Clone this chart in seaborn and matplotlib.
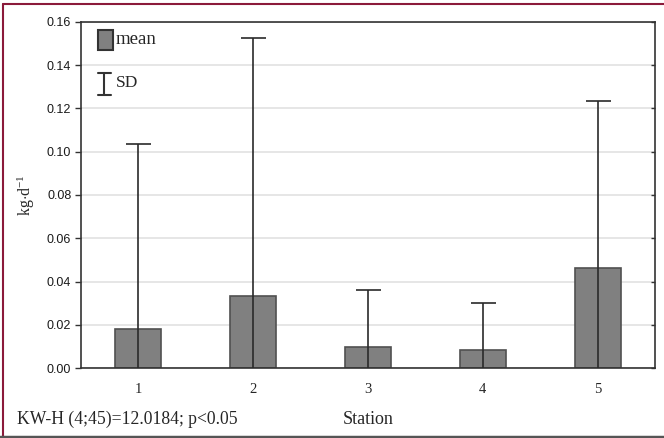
import matplotlib
matplotlib.use("Agg")
import matplotlib.pyplot as plt
import seaborn as sns
import pandas as pd
from matplotlib.lines import Line2D
from matplotlib.patches import Rectangle

stations = ["1", "2", "3", "4", "5"]
means = [0.018, 0.0333, 0.0097, 0.0083, 0.0462]
sds = [0.0856, 0.1193, 0.0264, 0.0217, 0.0773]
yticks = [0.00, 0.02, 0.04, 0.06, 0.08, 0.10, 0.12, 0.14, 0.16]

sns.set_theme(style="white")
plt.rcParams["font.family"] = ["Liberation Sans", "DejaVu Sans"]
plt.rcParams["mathtext.fontset"] = "custom"
plt.rcParams["mathtext.rm"] = "Liberation Serif"
plt.rcParams["mathtext.it"] = "Liberation Serif:italic"

df = pd.DataFrame({"Station": stations, "mean": means, "sd": sds})

fig = plt.figure(figsize=(6.64, 4.38), dpi=100)
ax = fig.add_axes([0.122, 0.1598, 0.8644, 0.79])

sns.barplot(data=df, x="Station", y="mean", color="#808080", width=0.4,
            errorbar=None, saturation=1, edgecolor="#505050", linewidth=1.2,
            ax=ax, zorder=2)
ax.errorbar(range(len(stations)), means, yerr=sds, fmt="none",
            ecolor="#2a2a2a", elinewidth=1.2, capsize=9, capthick=1.2, zorder=3)

ax.set_xlim(-0.5, 4.5)
ax.set_ylim(0, 0.16)
ax.set_yticks(yticks)
ax.set_yticklabels([f"{v:.2f}" for v in yticks], fontsize=9, color="#1a1a1a")
ax.yaxis.grid(True, color="#e2e2e2", linewidth=1.2, zorder=0)
ax.set_axisbelow(True)
for s in ax.spines.values():
    s.set_visible(True)
    s.set_color("#333333")
    s.set_linewidth(1.2)
ax.tick_params(axis="y", left=True, direction="out", length=4, width=1, color="#333333", pad=3)
ax.tick_params(axis="x", bottom=False, pad=5)
for lab in ax.get_xticklabels():
    lab.set_family("Liberation Serif")
    lab.set_fontsize(10.5)
# inward ticks on right spine
ax2 = ax.twinx()
ax2.set_ylim(0, 0.16)
ax2.set_yticks(yticks)
ax2.tick_params(axis="y", right=True, direction="in", length=3, width=1, color="#333333", labelright=False)
ax2.grid(False)
for s in ax2.spines.values():
    s.set_visible(False)

ax.set_xlabel("Station", family="Liberation Serif", fontsize=13, labelpad=10.5)
ax.set_ylabel(r"kg$\cdot$d$^{-1}$", family="Liberation Serif", fontsize=11.5, labelpad=7)

# legend drawn in axes coordinates
ax.add_patch(Rectangle((0.029, 0.92), 0.027, 0.056, transform=ax.transAxes,
                       facecolor="#808080", edgecolor="#333333", linewidth=1.5,
                       clip_on=False, zorder=5))
ax.text(0.061, 0.95, "mean", transform=ax.transAxes, family="Liberation Serif",
        fontsize=13.5, va="center", ha="left")
ax.add_line(Line2D([0.0405, 0.0405], [0.79, 0.853], transform=ax.transAxes, color="#333333", lw=1.5))
ax.add_line(Line2D([0.029, 0.052], [0.853, 0.853], transform=ax.transAxes, color="#333333", lw=1.5))
ax.add_line(Line2D([0.029, 0.052], [0.79, 0.79], transform=ax.transAxes, color="#333333", lw=1.5))
ax.text(0.061, 0.825, "SD", transform=ax.transAxes, family="Liberation Serif",
        fontsize=12.5, va="center", ha="left")

fig.text(17 / 664, 1 - 419 / 438, "KW-H (4;45)=12.0184; p<0.05", family="Liberation Serif",
         fontsize=12.7, va="center", ha="left")

# frame lines
fig.add_artist(Line2D([3 / 664, 1], [1 - 4 / 438, 1 - 4 / 438], transform=fig.transFigure, color="#8b1a3a", lw=1.5))
fig.add_artist(Line2D([3 / 664, 3 / 664], [1 - 4 / 438, 0], transform=fig.transFigure, color="#8b1a3a", lw=1.5))
fig.add_artist(Line2D([0, 1], [1 - 436.5 / 438, 1 - 436.5 / 438], transform=fig.transFigure, color="#555555", lw=2.5))

fig.savefig("out.png", dpi=100)
